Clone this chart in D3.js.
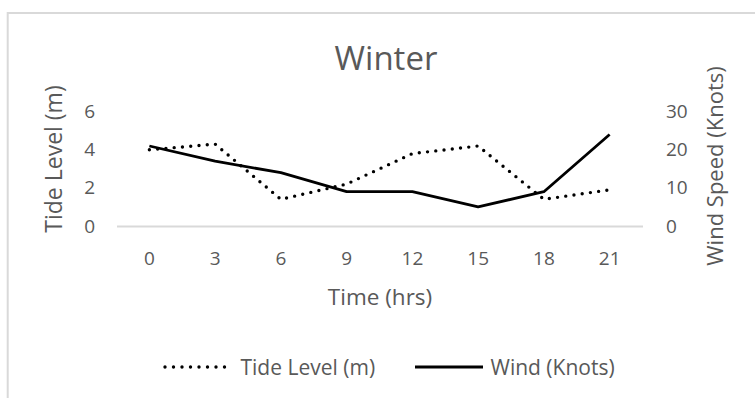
<!DOCTYPE html>
<html>
<head>
<meta charset="utf-8">
<script src="https://cdn.jsdelivr.net/npm/d3@7/dist/d3.min.js"></script>
<style>
  html, body { margin: 0; padding: 0; background: #fff; }
  svg { display: block; }
  text { font-family: "Open Sans", sans-serif; fill: #595959; }
</style>
</head>
<body>
<svg id="chart" width="755" height="398"></svg>
<script>
// Hours of the day (category axis)
const hours = ["0", "3", "6", "9", "12", "15", "18", "21"];
// Tide level in metres (left axis)
const tideLevel = [4.0, 4.3, 1.4, 2.2, 3.8, 4.2, 1.4, 1.9];
// Wind speed in knots (right axis)
const windKnots = [21, 17, 14, 9, 9, 5, 9, 24];
// Axis ticks
const tideTicks = [0, 2, 4, 6];
const windTicks = [0, 10, 20, 30];

const svg = d3.select("#chart");
const textColor = "#595959";
const lineGray = "#d9d9d9";

// Chart frame
svg.append("rect")
  .attr("x", 7.7).attr("y", 13)
  .attr("width", 780).attr("height", 420)
  .attr("fill", "none")
  .attr("stroke", lineGray)
  .attr("stroke-width", 2);

const plot = { left: 116.5, right: 642.5, top: 111.7, bottom: 226 };

const x = d3.scaleBand().domain(hours).range([plot.left, plot.right]);
const yTide = d3.scaleLinear().domain([0, 6]).range([plot.bottom, plot.top]);
const yWind = d3.scaleLinear().domain([0, 30]).range([plot.bottom, plot.top]);
const cx = d => x(d) + x.bandwidth() / 2;

function styleAxis(g, size) {
  g.attr("font-family", null).attr("font-size", null);
  g.selectAll("text")
    .style("font-family", "'Open Sans', sans-serif")
    .style("font-size", size + "px")
    .attr("fill", textColor);
}

// Category axis along the zero line
const xAxis = svg.append("g")
  .attr("transform", `translate(0,${plot.bottom})`)
  .call(d3.axisBottom(x).tickSize(0).tickSizeOuter(0).tickPadding(25.5));
xAxis.select(".domain").attr("stroke", lineGray).attr("stroke-width", 1.8);
styleAxis(xAxis, 19);

// Left value axis
const yAxisL = svg.append("g")
  .attr("transform", `translate(${plot.left},0)`)
  .call(d3.axisLeft(yTide).tickValues(tideTicks).tickFormat(d3.format("d"))
    .tickSize(0).tickPadding(21.5));
yAxisL.select(".domain").remove();
styleAxis(yAxisL, 19);

// Right value axis
const yAxisR = svg.append("g")
  .attr("transform", `translate(${plot.right},0)`)
  .call(d3.axisRight(yWind).tickValues(windTicks).tickFormat(d3.format("d"))
    .tickSize(0).tickPadding(23.5));
yAxisR.select(".domain").remove();
styleAxis(yAxisR, 19);

// Series lines
const tideLine = d3.line().x((d, i) => cx(hours[i])).y(d => yTide(d));
const windLine = d3.line().x((d, i) => cx(hours[i])).y(d => yWind(d));

svg.append("path")
  .datum(windKnots)
  .attr("d", windLine)
  .attr("fill", "none")
  .attr("stroke", "#000")
  .attr("stroke-width", 2.8)
  .attr("stroke-linejoin", "round");

svg.append("path")
  .datum(tideLevel)
  .attr("d", tideLine)
  .attr("fill", "none")
  .attr("stroke", "#000")
  .attr("stroke-width", 3.4)
  .attr("stroke-linecap", "round")
  .attr("stroke-dasharray", "0 8.3");

// Title
svg.append("text")
  .attr("x", 386).attr("y", 70)
  .attr("text-anchor", "middle")
  .style("font-size", "33px")
  .text("Winter");

// Axis titles
svg.append("text")
  .attr("x", 380).attr("y", 305)
  .attr("text-anchor", "middle")
  .style("font-size", "22.5px")
  .text("Time (hrs)");

svg.append("text")
  .attr("transform", "translate(62,159) rotate(-90)")
  .attr("text-anchor", "middle")
  .style("font-size", "23px")
  .text("Tide Level (m)");

svg.append("text")
  .attr("transform", "translate(723,166) rotate(-90)")
  .attr("text-anchor", "middle")
  .style("font-size", "22px")
  .text("Wind Speed (Knots)");

// Legend
const legendY = 367;
const legend = [
  { label: "Tide Level (m)", x0: 165, x1: 233, tx: 240.5, dotted: true },
  { label: "Wind (Knots)", x0: 415, x1: 483, tx: 490.5, dotted: false }
];
legend.forEach(item => {
  const ln = svg.append("line")
    .attr("x1", item.x0).attr("x2", item.x1)
    .attr("y1", legendY).attr("y2", legendY)
    .attr("stroke", "#000");
  if (item.dotted) {
    ln.attr("stroke-width", 3.4)
      .attr("stroke-linecap", "round")
      .attr("stroke-dasharray", "0 8.5");
  } else {
    ln.attr("stroke-width", 2.8);
  }
  svg.append("text")
    .attr("x", item.tx).attr("y", legendY + 7.5)
    .style("font-size", "21px")
    .text(item.label);
});
</script>
</body>
</html>
